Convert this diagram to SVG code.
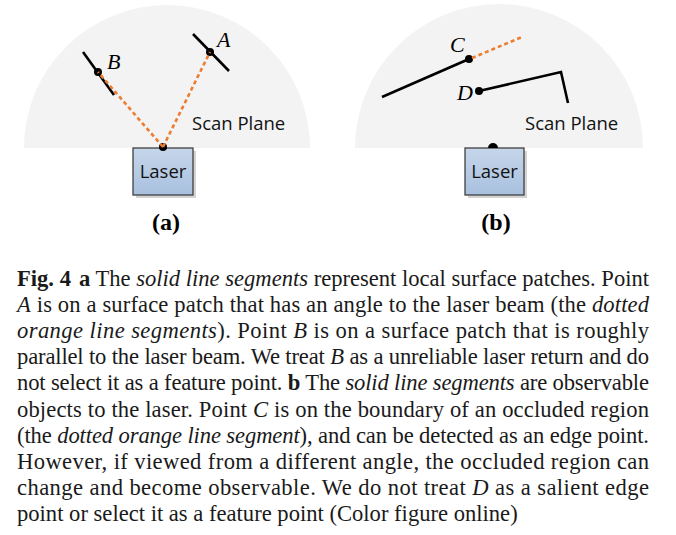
<svg xmlns="http://www.w3.org/2000/svg" width="676" height="535" viewBox="0 0 676 535">
<defs>
<linearGradient id="boxg" x1="0" y1="0" x2="0" y2="1">
<stop offset="0" stop-color="#c6d6ea"/>
<stop offset="1" stop-color="#a8c0df"/>
</linearGradient>
<style>
.plane{fill:#f3f3f3}
.box{fill:url(#boxg);stroke:#404040;stroke-width:1.3}
.shadow{fill:#d4d4d4}
.seg{stroke:#000;stroke-width:2.6;fill:none;stroke-linecap:butt;stroke-linejoin:miter}
.beam{stroke:#ed7d31;stroke-width:2.6;fill:none;stroke-dasharray:4 3}
.dot{fill:#000}
.sans{font-family:"Open Sans","Noto Sans",sans-serif;font-size:18.5px;fill:#111}
.pt{font-family:"Liberation Serif",serif;font-style:italic;font-size:22px;fill:#000}
.sub{font-family:"Liberation Serif",serif;font-weight:bold;font-size:24px;fill:#000;text-anchor:middle}
.cap{font-family:"Liberation Serif",serif;font-size:22.6px;fill:#1a1a1a}
.b{font-weight:bold}
.i{font-style:italic}
</style>
</defs>
<rect width="676" height="535" fill="#fff"/>

<g id="panel-a">
<path class="plane" d="M24,148 A143,143 0 0 1 310,148 Z"/>
<text class="sans" x="192" y="130">Scan Plane</text>
<g id="laser-a">
<rect class="shadow" x="136" y="151" width="60" height="47"/>
<rect class="box" x="133" y="148" width="60" height="47"/>
<text class="sans" x="163" y="178" text-anchor="middle">Laser</text>
</g>
<g id="patch-B">
<line class="seg" x1="83" y1="52" x2="114" y2="95"/>
<circle class="dot" cx="98" cy="72" r="4"/>
<text class="pt" x="107" y="69">B</text>
</g>
<g id="patch-A">
<line class="seg" x1="193" y1="34" x2="229" y2="71"/>
<circle class="dot" cx="210" cy="52" r="4"/>
<text class="pt" x="217" y="47">A</text>
</g>
<circle class="dot" cx="163" cy="147" r="4"/>
<g id="connectors-a">
<line class="beam" x1="163" y1="147" x2="98" y2="72"/>
<line class="beam" x1="163" y1="147" x2="210" y2="52"/>
</g>
<text class="sub" x="166" y="230">(a)</text>
</g>

<g id="panel-b">
<path class="plane" d="M355,148 A144,144 0 0 1 643,148 Z"/>
<text class="sans" x="525" y="130">Scan Plane</text>
<g id="laser-b">
<rect class="shadow" x="468" y="151" width="59" height="47"/>
<rect class="box" x="465" y="148" width="59" height="47"/>
<text class="sans" x="494.5" y="178" text-anchor="middle">Laser</text>
<path class="dot" d="M488,148 A5,5 0 0 1 498,148 Z"/>
</g>
<g id="object-C">
<line class="seg" x1="382" y1="97" x2="469" y2="59"/>
<circle class="dot" cx="469" cy="59" r="4"/>
<text class="pt" x="450" y="52">C</text>
</g>
<g id="object-D">
<polyline class="seg" points="479,91 561,72 568,103"/>
<circle class="dot" cx="479" cy="91" r="4"/>
<text class="pt" x="457" y="100">D</text>
</g>
<g id="connectors-b">
<line class="beam" x1="472" y1="58" x2="522" y2="37"/>
</g>
<text class="sub" x="496" y="230">(b)</text>
</g>

<g id="caption" class="cap">
<text x="17" y="286" textLength="632" lengthAdjust="spacing"><tspan class="b">Fig. 4</tspan><tspan class="b" dx="8">a</tspan> The <tspan class="i">solid line segments</tspan> represent local surface patches. Point</text>
<text x="17" y="312" textLength="632" lengthAdjust="spacing"><tspan class="i">A</tspan> is on a surface patch that has an angle to the laser beam (the <tspan class="i">dotted</tspan></text>
<text x="17" y="338" textLength="632" lengthAdjust="spacing"><tspan class="i">orange line segments</tspan>). Point <tspan class="i">B</tspan> is on a surface patch that is roughly</text>
<text x="17" y="364" textLength="632" lengthAdjust="spacing">parallel to the laser beam. We treat <tspan class="i">B</tspan> as a unreliable laser return and do</text>
<text x="17" y="390" textLength="632" lengthAdjust="spacing">not select it as a feature point. <tspan class="b">b</tspan> The <tspan class="i">solid line segments</tspan> are observable</text>
<text x="17" y="416.5" textLength="632" lengthAdjust="spacing">objects to the laser. Point <tspan class="i">C</tspan> is on the boundary of an occluded region</text>
<text x="17" y="442.5" textLength="632" lengthAdjust="spacing">(the <tspan class="i">dotted orange line segment</tspan>), and can be detected as an edge point.</text>
<text x="17" y="468.5" textLength="632" lengthAdjust="spacing">However, if viewed from a different angle, the occluded region can</text>
<text x="17" y="494.5" textLength="632" lengthAdjust="spacing">change and become observable. We do not treat <tspan class="i">D</tspan> as a salient edge</text>
<text x="17" y="521">point or select it as a feature point (Color figure online)</text>
</g>
</svg>
